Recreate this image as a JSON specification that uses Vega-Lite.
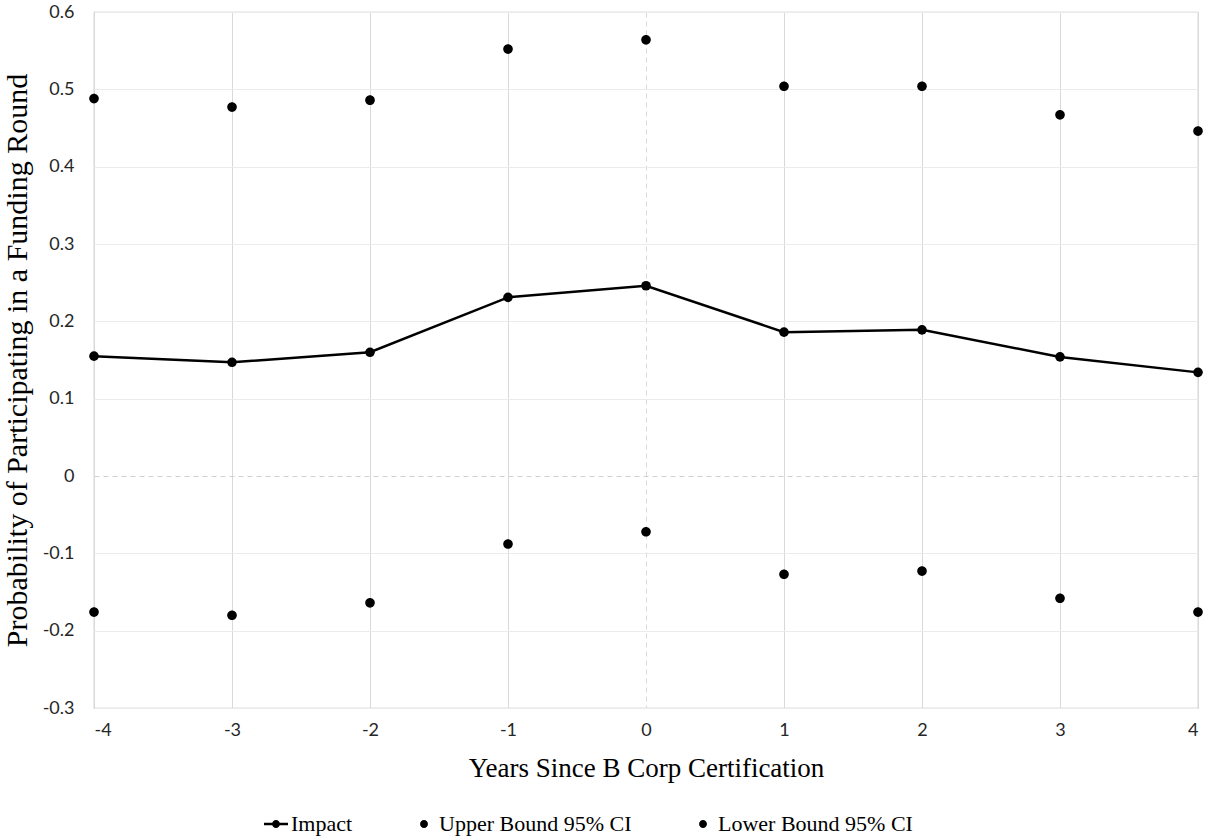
{
  "$schema": "https://vega.github.io/schema/vega-lite/v6.json",
  "autosize": "none",
  "padding": {"left": 94, "top": 12, "right": 10, "bottom": 131},
  "width": 1104,
  "height": 696,
  "background": "white",
  "config": {
    "view": {"stroke": "#bfbfbf", "strokeWidth": 1.2},
    "axis": {"domain": false, "ticks": false, "labelFont": "Lato", "labelFontSize": 18, "labelColor": "#262626", "titleFont": "Liberation Serif", "titleFontSize": 27, "titleFontWeight": "normal", "titleColor": "#000000"},
    "legend": {"labelFont": "Liberation Serif", "labelFontSize": 22, "labelColor": "#000000"}
  },
  "data": {"values": [
    {"year": -4, "series": "Impact", "value": 0.155},
    {"year": -3, "series": "Impact", "value": 0.147},
    {"year": -2, "series": "Impact", "value": 0.160},
    {"year": -1, "series": "Impact", "value": 0.231},
    {"year": 0, "series": "Impact", "value": 0.246},
    {"year": 1, "series": "Impact", "value": 0.186},
    {"year": 2, "series": "Impact", "value": 0.189},
    {"year": 3, "series": "Impact", "value": 0.154},
    {"year": 4, "series": "Impact", "value": 0.134},
    {"year": -4, "series": "Upper Bound 95% CI", "value": 0.488},
    {"year": -3, "series": "Upper Bound 95% CI", "value": 0.477},
    {"year": -2, "series": "Upper Bound 95% CI", "value": 0.486},
    {"year": -1, "series": "Upper Bound 95% CI", "value": 0.552},
    {"year": 0, "series": "Upper Bound 95% CI", "value": 0.564},
    {"year": 1, "series": "Upper Bound 95% CI", "value": 0.504},
    {"year": 2, "series": "Upper Bound 95% CI", "value": 0.504},
    {"year": 3, "series": "Upper Bound 95% CI", "value": 0.467},
    {"year": 4, "series": "Upper Bound 95% CI", "value": 0.446},
    {"year": -4, "series": "Lower Bound 95% CI", "value": -0.176},
    {"year": -3, "series": "Lower Bound 95% CI", "value": -0.180},
    {"year": -2, "series": "Lower Bound 95% CI", "value": -0.164},
    {"year": -1, "series": "Lower Bound 95% CI", "value": -0.088},
    {"year": 0, "series": "Lower Bound 95% CI", "value": -0.072},
    {"year": 1, "series": "Lower Bound 95% CI", "value": -0.127},
    {"year": 2, "series": "Lower Bound 95% CI", "value": -0.123},
    {"year": 3, "series": "Lower Bound 95% CI", "value": -0.158},
    {"year": 4, "series": "Lower Bound 95% CI", "value": -0.176}
  ]},
  "encoding": {
    "x": {
      "field": "year", "type": "quantitative",
      "scale": {"domain": [-4, 4], "nice": false, "zero": false},
      "axis": {
        "title": "Years Since B Corp Certification",
        "values": [-4, -3, -2, -1, 0, 1, 2, 3, 4],
        "labelPadding": 13, "titlePadding": 16,
        "gridColor": "#d9d9d9", "gridWidth": 1,
        "gridDash": {"condition": {"test": "datum.value === 0", "value": [5, 4]}, "value": []},
        "labelExpr": "toString(datum.value)"
      }
    },
    "y": {
      "field": "value", "type": "quantitative",
      "scale": {"domain": [-0.3, 0.6], "nice": false, "zero": false},
      "axis": {
        "title": "Probability of Participating in a Funding Round",
        "titleFontSize": 30,
        "values": [-0.3, -0.2, -0.1, 0, 0.1, 0.2, 0.3, 0.4, 0.5, 0.6],
        "labelPadding": 20, "titlePadding": 10,
        "gridWidth": 1,
        "gridDash": {"condition": {"test": "abs(datum.value) < 1e-9", "value": [5, 4]}, "value": []},
        "gridColor": {"condition": {"test": "abs(datum.value) < 1e-9", "value": "#d0d0d0"}, "value": "#ebebeb"},
        "labelExpr": "abs(datum.value) < 1e-9 ? '0' : toString(round(datum.value * 10) / 10)"
      }
    }
  },
  "layer": [
    {
      "transform": [{"filter": "datum.series === 'Impact'"}],
      "mark": {"type": "line", "color": "#000000", "strokeWidth": 2.5}
    },
    {
      "transform": [{"filter": "datum.series === 'Impact'"}],
      "mark": {"type": "point", "shape": "circle", "filled": true, "color": "#000000", "size": 92, "opacity": 1}
    },
    {
      "transform": [{"filter": "datum.series !== 'Impact'"}],
      "mark": {"type": "point", "filled": true, "color": "#000000", "size": 846, "opacity": 1},
      "encoding": {
        "shape": {
          "field": "series", "type": "nominal",
          "scale": {
            "domain": ["Impact", "Upper Bound 95% CI", "Lower Bound 95% CI"],
            "range": [
              "M-1,-0.1L1,-0.1L1,0.1L-1,0.1ZM0.33,0A0.33,0.33 0 1,1 -0.33,0A0.33,0.33 0 1,1 0.33,0Z",
              "M0.33,0A0.33,0.33 0 1,1 -0.33,0A0.33,0.33 0 1,1 0.33,0Z",
              "M0.33,0A0.33,0.33 0 1,1 -0.33,0A0.33,0.33 0 1,1 0.33,0Z"
            ]
          },
          "legend": {
            "title": null,
            "orient": "none",
            "direction": "horizontal",
            "legendX": 169,
            "legendY": 799,
            "symbolSize": 576,
            "symbolFillColor": "#000000",
            "symbolOpacity": 1,
            "labelOffset": 2,
            "labelLimit": 500,
            "columnPadding": 58,
            "padding": 0,
            "encode": {
              "symbols": {"update": {"fill": {"value": "#000000"}, "opacity": {"value": 1}, "size": {"value": 576}}}
            }
          }
        }
      }
    }
  ]
}
